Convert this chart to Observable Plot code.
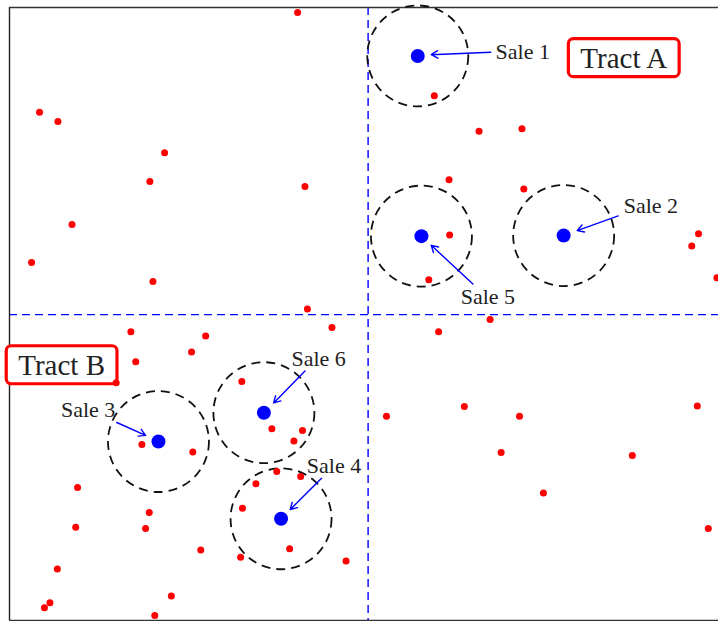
<!DOCTYPE html>
<html><head><meta charset="utf-8">
<script src="https://cdn.jsdelivr.net/npm/d3@7"></script>
<script src="https://cdn.jsdelivr.net/npm/@observablehq/plot@0.6"></script>
<style>body{margin:0;background:#fff}#chart svg{display:block}</style>
</head><body><div id="chart"></div>
<script>
// Unsold parcels (red)
const parcelX = [4.70,0.49,0.79,2.53,2.29,4.82,1.02,0.36,2.34,4.86,6.93,7.66,8.36,7.17,8.39,7.18,6.84,11.24,11.13,11.54,7.84,5.26,1.98,3.20,2.97,2.06,1.74,3.79,4.28,4.78,4.64,2.16,2.99,4.36,4.75,4.02,1.11,2.28,3.80,1.08,2.22,3.12,4.57,3.77,5.49,0.78,2.64,0.66,0.57,2.37,7.00,6.15,7.42,8.32,8.02,8.71,10.16,11.22,11.40];
const parcelY = [9.92,8.29,8.14,7.63,7.16,7.08,6.46,5.84,5.53,5.08,8.56,7.98,8.02,7.19,7.04,6.29,5.56,6.31,6.11,5.59,4.91,4.78,4.71,4.64,4.38,4.22,3.88,3.90,3.13,3.10,2.93,2.87,2.75,2.43,2.35,2.23,2.17,1.76,1.83,1.52,1.50,1.15,1.17,1.03,0.97,0.84,0.40,0.29,0.21,0.08,4.71,3.33,3.49,3.33,2.74,2.08,2.69,3.50,1.50];
// Sales (blue)
const saleNames = ["Sale 1","Sale 2","Sale 3","Sale 4","Sale 5","Sale 6"];
const saleX = [6.66,9.04,2.43,4.43,6.72,4.15];
const saleY = [9.21,6.28,2.92,1.66,6.27,3.39];
const labelX = [7.93,10.02,0.84,4.85,7.36,4.60];
const labelY = [9.27,6.76,3.43,2.52,5.27,4.26];
const arrowX1 = [7.85,9.93,1.75,5.09,7.56,4.82];
const arrowY1 = [9.27,6.60,3.23,2.32,5.49,4.07];
const arrowX2 = [6.88,9.26,2.22,4.58,6.88,4.31];
const arrowY2 = [9.23,6.36,3.02,1.81,6.12,3.55];
// Tracts
const tractNames = ["Tract A","Tract B"];
const tractX = [10.02,0.85];
const tractY = [9.17,4.16];
// Tract boundaries
const boundaryX = [5.85];
const boundaryY = [4.99];

const parcels = parcelX.map((x,i)=>({x, y: parcelY[i]}));
const sales = saleNames.map((name,i)=>({name, x: saleX[i], y: saleY[i], lx: labelX[i], ly: labelY[i],
  ax1: arrowX1[i], ay1: arrowY1[i], ax2: arrowX2[i], ay2: arrowY2[i]}));
const tracts = tractNames.map((name,i)=>({name, x: tractX[i], y: tractY[i]}));

const serif = "'Liberation Serif', 'DejaVu Serif', serif";
const blue = "#0000ff";

const plot = Plot.plot({
  width: 718, height: 621,
  marginLeft: 9, marginRight: 0, marginTop: 7, marginBottom: 1,
  x: {domain: [0, 709/61.3], axis: null},
  y: {domain: [0, 10], axis: null},
  marks: [
    Plot.ruleX(boundaryX, {stroke: blue, strokeWidth: 1.4, strokeDasharray: "8,5"}),
    Plot.ruleY(boundaryY, {stroke: blue, strokeWidth: 1.4, strokeDasharray: "8,5"}),
    Plot.ruleX([0], {stroke: "#222", strokeWidth: 1.4}),
    Plot.ruleY([0, 10], {stroke: "#333", strokeWidth: 1.6}),
    Plot.dot(sales, {x: "x", y: "y", r: 50.5, fill: "none", stroke: "#111", strokeWidth: 1.8, strokeDasharray: "9,6"}),
    Plot.text(tracts, {x: "x", y: "y", text: "name", fontFamily: serif, fontSize: 29, fill: "#222", className: "tract"}),
    Plot.dot(parcels, {x: "x", y: "y", r: 3.5, fill: "#ff0000", stroke: "none"}),
    Plot.dot(sales, {x: "x", y: "y", r: 7, fill: blue, stroke: "none"}),
    Plot.arrow(sales, {x1: "ax1", y1: "ay1", x2: "ax2", y2: "ay2", stroke: blue, strokeWidth: 1.4, headLength: 8}),
    Plot.text(sales, {x: "lx", y: "ly", text: "name", textAnchor: "start", fontFamily: serif, fontSize: 22, fill: "#222"})
  ]
});
document.getElementById("chart").append(plot);

// rounded red boxes around tract labels
d3.select(plot).selectAll("g.tract text").each(function() {
  const b = this.getBBox();
  const padX = 12, padY = 3;
  d3.select(this.parentNode).insert("rect", () => this)
    .attr("transform", this.getAttribute("transform"))
    .attr("x", b.x - padX).attr("y", b.y - padY)
    .attr("width", b.width + 2*padX).attr("height", b.height + 2*padY)
    .attr("rx", 5).attr("ry", 5)
    .attr("fill", "white").attr("stroke", "#ff0000").attr("stroke-width", 3.2);
});
</script>
</body></html>
